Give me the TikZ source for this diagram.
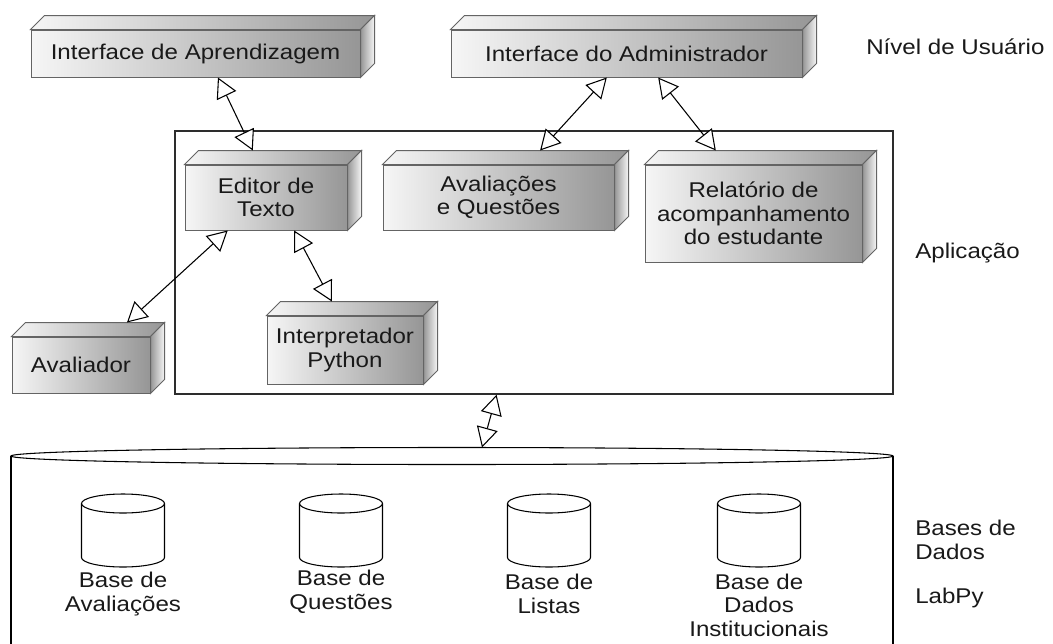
\documentclass[tikz,border=0pt]{standalone}
\usepackage{fontspec}
\setmainfont{Liberation Sans}[FakeStretch=1.13]
\usetikzlibrary{arrows.meta,calc}

\definecolor{boxlight}{RGB}{246,246,246}
\definecolor{boxdark}{RGB}{150,150,150}
\definecolor{boxedge}{RGB}{100,100,100}
\definecolor{framecol}{RGB}{45,45,45}
\definecolor{ink}{RGB}{25,25,25}

\newcommand\lbl{\fontsize{16pt}{17.6pt}\selectfont}

\tikzset{
  front/.style={draw=boxedge, line width=0.75pt, left color=boxlight,
    right color=boxdark, inner sep=0pt, align=center, font=\lbl, text=ink},
  topface/.style={draw=boxedge, line width=0.75pt, left color=boxlight,
    right color=boxdark},
  sideface/.style={draw=boxedge, line width=0.75pt, left color=boxdark,
    right color=boxlight},
  appframe/.style={draw=framecol, line width=1.1pt, inner sep=0pt},
  link/.style={draw=black, line width=0.8pt,
    {Triangle[length=15pt,width=16pt,fill=white]}-{Triangle[length=15pt,width=16pt,fill=white]}},
  store/.style={draw=black, line width=0.8pt},
  dbtext/.style={align=center, font=\lbl, text=ink, inner sep=0pt},
  layer/.style={anchor=west, align=left, font=\lbl, text=ink, inner sep=0pt}
}

% 3D box: name, left, top, right, bottom (front face), text
\newcommand\solid[6]{%
  \node[front, minimum width={(#4-#2)*0.75pt}, minimum height={(#5-#3)*0.75pt}]
    (#1) at ({(#2+#4)/2},{(#3+#5)/2}) {#6};
  \path[topface] (#1.north west) -- ++(14,-14)
    -- ([shift={(14,-14)}]#1.north east) -- (#1.north east) -- cycle;
  \path[sideface] (#1.north east) -- ++(14,-14)
    -- ([shift={(14,-14)}]#1.south east) -- (#1.south east) -- cycle;
  \coordinate (#1-bw) at ([shift={(14,-14)}]#1.north west);
  \coordinate (#1-be) at ([shift={(14,-14)}]#1.north east);
}

% small database cylinder centred at x=#1
\newcommand\dbcyl[1]{%
  \draw[store] (#1-41.5,503.5) -- (#1-41.5,557.5)
    arc[start angle=180, end angle=0, x radius=41.5, y radius=9.5]
    -- (#1+41.5,503.5);
  \draw[store] (#1,503.5) ellipse [x radius=41.5, y radius=9.5];
}

\begin{document}
\begin{tikzpicture}[x=0.75pt, y=-0.75pt]
\useasboundingbox (0,0) rectangle (1053,643);

% application frame
\node[appframe, minimum width={718*0.75pt}, minimum height={263*0.75pt}]
  (app) at (534,262.5) {};

% user level
\solid{ia}{31}{30}{360}{77}{Interface de Aprendizagem}
\solid{adm}{451}{30}{802}{77}{Interface do Administrador}

% application components
\solid{ed}{185}{165}{347}{230}{Editor de\\Texto}
\solid{aq}{383}{165}{614}{230}{Avaliações\\e Questões}
\solid{rel}{645}{165}{862}{262}{Relatório de\\acompanhamento\\do estudante}
\solid{py}{267}{316}{423}{384}{Interpretador\\Python}
\solid{av}{12}{337}{150}{393}{Avaliador}

% database layer
\draw[store] (11,456) -- (11,646);
\draw[store] (893,456) -- (893,646);
\draw[store] (452,456) ellipse [x radius=441, y radius=8.5];
\coordinate (dbtop) at (482,447.5);

\dbcyl{123}
\dbcyl{341}
\dbcyl{549}
\dbcyl{759}
\node[dbtext] (b1) at (123,594) {Base de\\Avaliações};
\node[dbtext] (b2) at (341,592) {Base de\\Questões};
\node[dbtext] (b3) at (549,594) {Base de\\Listas};
\node[dbtext] (b4) at (759,605) {Base de\\Dados\\Institucionais};

% layer names
\node[layer] (l1) at (866,47) {Nível de Usuário};
\node[layer] (l2) at (915,253) {Aplicação};
\node[layer] (l3) at (915,540) {Bases de\\Dados};
\node[layer] (l4) at (915,598) {LabPy};

% connectors
\draw[link] ($(ia.south west)!0.568!(ia.south east)$) -- ($(ed-bw)!0.333!(ed-be)$);
\draw[link] ($(ed.south west)!0.265!(ed.south east)$) -- ($(av-bw)!0.73!(av-be)$);
\draw[link] ($(ed.south west)!0.673!(ed.south east)$) -- ($(py-bw)!0.327!(py-be)$);
\draw[link] ($(adm.south west)!0.444!(adm.south east)$) -- ($(aq-bw)!0.619!(aq-be)$);
\draw[link] ($(adm.south west)!0.59!(adm.south east)$) -- ($(rel-bw)!0.263!(rel-be)$);
\draw[link] ($(app.south west)!0.448!(app.south east)$) -- (dbtop);
\end{tikzpicture}
\end{document}
